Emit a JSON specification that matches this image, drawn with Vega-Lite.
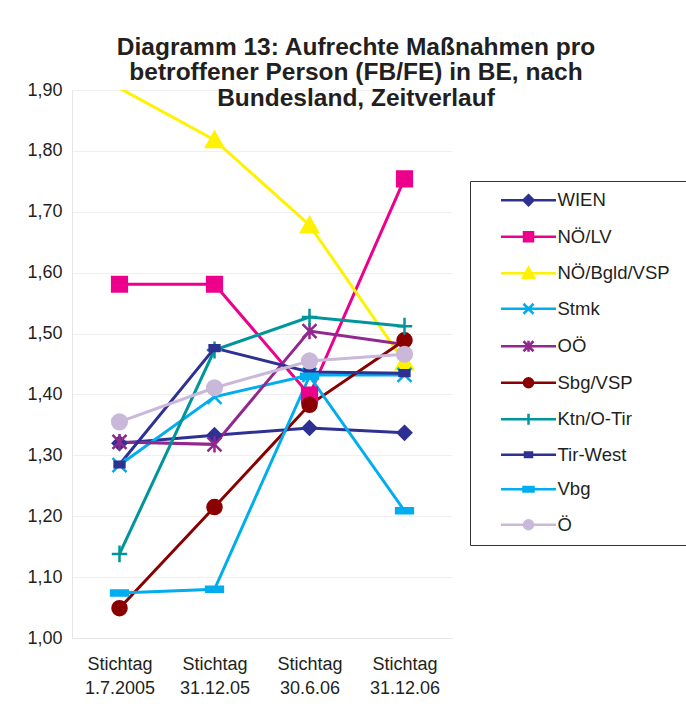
{
  "$schema": "https://vega.github.io/schema/vega-lite/v6.json",
  "width": 380,
  "height": 548,
  "autosize": {"type": "none"},
  "padding": {"left": 72, "top": 90, "right": 234, "bottom": 71},
  "background": "white",
  "config": {"font": "Liberation Sans", "view": {"stroke": null}},
  "title": {
    "text": ["Diagramm 13: Aufrechte Maßnahmen pro", "betroffener Person (FB/FE) in BE, nach", "Bundesland, Zeitverlauf"],
    "fontSize": 24.5, "fontWeight": "bold", "color": "#231f20",
    "anchor": "middle", "frame": "group", "dx": 94, "offset": -30, "lineHeight": 25.5
  },
  "data": {"values": [
    {"Bundesland": "WIEN", "Stichtag": "1.7.2005", "Wert": 1.320},
    {"Bundesland": "WIEN", "Stichtag": "31.12.05", "Wert": 1.333},
    {"Bundesland": "WIEN", "Stichtag": "30.6.06", "Wert": 1.345},
    {"Bundesland": "WIEN", "Stichtag": "31.12.06", "Wert": 1.337},
    {"Bundesland": "NÖ/LV", "Stichtag": "1.7.2005", "Wert": 1.581},
    {"Bundesland": "NÖ/LV", "Stichtag": "31.12.05", "Wert": 1.581},
    {"Bundesland": "NÖ/LV", "Stichtag": "30.6.06", "Wert": 1.399},
    {"Bundesland": "NÖ/LV", "Stichtag": "31.12.06", "Wert": 1.754},
    {"Bundesland": "NÖ/Bgld/VSP", "Stichtag": "1.7.2005", "Wert": 1.903},
    {"Bundesland": "NÖ/Bgld/VSP", "Stichtag": "31.12.05", "Wert": 1.818},
    {"Bundesland": "NÖ/Bgld/VSP", "Stichtag": "30.6.06", "Wert": 1.678},
    {"Bundesland": "NÖ/Bgld/VSP", "Stichtag": "31.12.06", "Wert": 1.453},
    {"Bundesland": "Stmk", "Stichtag": "1.7.2005", "Wert": 1.284},
    {"Bundesland": "Stmk", "Stichtag": "31.12.05", "Wert": 1.396},
    {"Bundesland": "Stmk", "Stichtag": "30.6.06", "Wert": 1.432},
    {"Bundesland": "Stmk", "Stichtag": "31.12.06", "Wert": 1.432},
    {"Bundesland": "OÖ", "Stichtag": "1.7.2005", "Wert": 1.322},
    {"Bundesland": "OÖ", "Stichtag": "31.12.05", "Wert": 1.318},
    {"Bundesland": "OÖ", "Stichtag": "30.6.06", "Wert": 1.504},
    {"Bundesland": "OÖ", "Stichtag": "31.12.06", "Wert": 1.482},
    {"Bundesland": "Sbg/VSP", "Stichtag": "1.7.2005", "Wert": 1.049},
    {"Bundesland": "Sbg/VSP", "Stichtag": "31.12.05", "Wert": 1.215},
    {"Bundesland": "Sbg/VSP", "Stichtag": "30.6.06", "Wert": 1.383},
    {"Bundesland": "Sbg/VSP", "Stichtag": "31.12.06", "Wert": 1.489},
    {"Bundesland": "Ktn/O-Tir", "Stichtag": "1.7.2005", "Wert": 1.138},
    {"Bundesland": "Ktn/O-Tir", "Stichtag": "31.12.05", "Wert": 1.473},
    {"Bundesland": "Ktn/O-Tir", "Stichtag": "30.6.06", "Wert": 1.527},
    {"Bundesland": "Ktn/O-Tir", "Stichtag": "31.12.06", "Wert": 1.512},
    {"Bundesland": "Tir-West", "Stichtag": "1.7.2005", "Wert": 1.285},
    {"Bundesland": "Tir-West", "Stichtag": "31.12.05", "Wert": 1.476},
    {"Bundesland": "Tir-West", "Stichtag": "30.6.06", "Wert": 1.437},
    {"Bundesland": "Tir-West", "Stichtag": "31.12.06", "Wert": 1.435},
    {"Bundesland": "Vbg", "Stichtag": "1.7.2005", "Wert": 1.074},
    {"Bundesland": "Vbg", "Stichtag": "31.12.05", "Wert": 1.080},
    {"Bundesland": "Vbg", "Stichtag": "30.6.06", "Wert": 1.430},
    {"Bundesland": "Vbg", "Stichtag": "31.12.06", "Wert": 1.209},
    {"Bundesland": "Ö", "Stichtag": "1.7.2005", "Wert": 1.355},
    {"Bundesland": "Ö", "Stichtag": "31.12.05", "Wert": 1.411},
    {"Bundesland": "Ö", "Stichtag": "30.6.06", "Wert": 1.455},
    {"Bundesland": "Ö", "Stichtag": "31.12.06", "Wert": 1.466}
  ]},
  "encoding": {
    "x": {
      "field": "Stichtag", "type": "ordinal", "sort": null,
      "scale": {"type": "point", "padding": 0.5},
      "axis": {
        "title": null, "labelAngle": 0, "labelExpr": "['Stichtag', datum.label]",
        "labelFontSize": 18, "labelLineHeight": 24, "labelPadding": 17, "labelColor": "#231f20",
        "ticks": false, "domainColor": "#e6e6e6", "grid": false
      }
    },
    "y": {
      "field": "Wert", "type": "quantitative",
      "scale": {"domain": [1, 1.9], "nice": false, "zero": false},
      "axis": {
        "title": null, "values": [1, 1.1, 1.2, 1.3, 1.4, 1.5, 1.6, 1.7, 1.8, 1.9],
        "labelExpr": "replace(format(datum.value, '.2f'), '.', ',')",
        "labelFontSize": 18, "labelPadding": 10, "labelColor": "#231f20",
        "ticks": false, "domainColor": "#e6e6e6", "gridColor": "#efefef"
      }
    },
    "color": {
      "field": "Bundesland", "type": "nominal",
      "scale": {
        "domain": ["WIEN", "NÖ/LV", "NÖ/Bgld/VSP", "Stmk", "OÖ", "Sbg/VSP", "Ktn/O-Tir", "Tir-West", "Vbg", "Ö"],
        "range": ["#2e3192", "#ec008c", "#fff200", "#00aeef", "#92278f", "#8a0000", "#00959a", "#2e3192", "#00aeef", "#c9b8da"]
      },
      "legend": {
        "title": null, "orient": "none", "legendX": 398, "legendY": 91,
        "strokeColor": "#333333", "fillColor": "white", "padding": 10,
        "symbolSize": 196, "symbolStrokeWidth": 2.5, "symbolOpacity": 1,
        "labelFontSize": 18.5, "labelColor": "#231f20", "labelOffset": 59, "labelLimit": 300,
        "rowPadding": 15.5,
        "encoding": {
          "symbols": {
            "shape": {"value": {"expr": "{'WIEN':'M2.35,0H13.35M7.85,-1L8.85,0L7.85,1L6.85,0ZM40,0','NÖ/LV':'M2.35,0H13.35M6.95,-0.9H8.75V0.9H6.95ZM40,0','NÖ/Bgld/VSP':'M2.35,0H13.35M7.85,-1.1L8.95,0.9H6.75ZM40,0','Stmk':'M2.35,0H13.35M6.85,-1L8.85,1M6.85,1L8.85,-1M40,0','OÖ':'M2.35,0H13.35M6.85,-1L8.85,1M6.85,1L8.85,-1M7.85,-1.1V1.1M40,0','Sbg/VSP':'M2.35,0H13.35M8.75,0A0.9,0.9,0,1,1,6.95,0A0.9,0.9,0,1,1,8.75,0ZM40,0','Ktn/O-Tir':'M2.35,0H13.35M7.85,-1.1V1.1M40,0','Tir-West':'M2.35,0H13.35M7.15,-0.45H8.55V0.45H7.15ZM40,0','Vbg':'M2.35,0H13.35M6.85,-0.45H8.85V0.45H6.85ZM40,0','Ö':'M2.35,0H13.35M8.75,0A0.9,0.9,0,1,1,6.95,0A0.9,0.9,0,1,1,8.75,0ZM40,0'}[datum.value]"}},
            "size": {"value": 100},
            "fill": {"value": {"expr": "{'WIEN':'#2e3192','NÖ/LV':'#ec008c','NÖ/Bgld/VSP':'#fff200','Stmk':'#00aeef','OÖ':'#92278f','Sbg/VSP':'#8a0000','Ktn/O-Tir':'#00959a','Tir-West':'#2e3192','Vbg':'#00aeef','Ö':'#c9b8da'}[datum.value]"}},
            "stroke": {"value": {"expr": "{'WIEN':'#2e3192','NÖ/LV':'#ec008c','NÖ/Bgld/VSP':'#fff200','Stmk':'#00aeef','OÖ':'#92278f','Sbg/VSP':'#8a0000','Ktn/O-Tir':'#00959a','Tir-West':'#2e3192','Vbg':'#00aeef','Ö':'#c9b8da'}[datum.value]"}},
            "strokeWidth": {"value": 2.5},
            "opacity": {"value": 1}
          }
        }
      }
    }
  },
  "layer": [
    {
      "mark": {"type": "line", "strokeWidth": 3, "clip": true}
    },
    {
      "transform": [{"filter": "datum.Wert <= 1.9"}],
      "mark": {"type": "point", "filled": true, "size": 196, "strokeWidth": 2.5, "opacity": 1},
      "encoding": {
        "stroke": {
          "field": "Bundesland", "type": "nominal", "legend": null,
          "scale": {
            "domain": ["WIEN", "NÖ/LV", "NÖ/Bgld/VSP", "Stmk", "OÖ", "Sbg/VSP", "Ktn/O-Tir", "Tir-West", "Vbg", "Ö", "-"],
            "range": ["#2e3192", "#ec008c", "#fff200", "#00aeef", "#92278f", "#8a0000", "#00959a", "#2e3192", "#00aeef", "#c9b8da", "#000000"]
          }
        },
        "shape": {
          "field": "Bundesland", "type": "nominal", "legend": null,
          "scale": {
            "domain": ["WIEN", "NÖ/LV", "NÖ/Bgld/VSP", "Stmk", "OÖ", "Sbg/VSP", "Ktn/O-Tir", "Tir-West", "Vbg", "Ö", "--"],
            "range": [
              "M0,-0.95L0.95,0L0,0.95L-0.95,0Z",
              "M-1.05,-1.05H1.05V1.05H-1.05Z",
              "M0,-1.1L1.2,1L-1.2,1Z",
              "M-1,-1L1,1M-1,1L1,-1",
              "M-1,-1L1,1M-1,1L1,-1M0,-1.15V1.15",
              "M1,0A1,1,0,1,1,-1,0A1,1,0,1,1,1,0Z",
              "M-1.1,0H1.1M0,-1.2V1.2",
              "M-0.7,-0.4H0.7V0.4H-0.7Z",
              "M-1.2,-0.35H1.2V0.35H-1.2Z",
              "M1.05,0A1.05,1.05,0,1,1,-1.05,0A1.05,1.05,0,1,1,1.05,0Z",
              "circle"
            ]
          }
        }
      }
    }
  ]
}
